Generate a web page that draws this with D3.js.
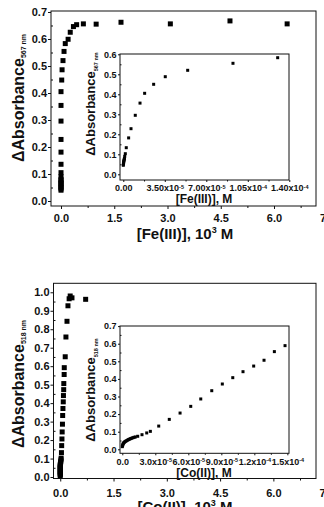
<!DOCTYPE html>
<html><head><meta charset="utf-8">
<script src="https://cdn.jsdelivr.net/npm/d3@7/dist/d3.min.js"></script>
<style>
html,body{margin:0;padding:0;background:#fff;}
svg{display:block;}
text{font-family:"Liberation Sans",Arial,sans-serif;font-weight:bold;fill:#111;}
</style></head><body>
<svg id="c" width="324" height="507"></svg>
<script>
// ---------- Panel 1: Fe(III) ----------
const feMainX = [0,0,0,0,0,0,0,0,0,0,0,0,0,0,0,0,0,0.02,0.03,0.056,0.085,0.12,0.2,0.26,0.35,0.44,0.63,0.99,1.69,3.08,4.76,6.37];
const feMainY = [0.04,0.045,0.05,0.055,0.06,0.065,0.07,0.075,0.08,0.09,0.105,0.136,0.181,0.228,0.296,0.354,0.405,0.448,0.486,0.52,0.554,0.583,0.599,0.625,0.646,0.653,0.656,0.655,0.662,0.656,0.667,0.656];
const feInsetX = [0,1e-7,2e-7,3e-7,4e-7,6e-7,8e-7,1.0e-6,1.2e-6,1.7e-6,2.5e-6,4.5e-6,6.5e-6,1.01e-5,1.41e-5,1.80e-5,2.56e-5,3.54e-5,5.43e-5,9.25e-5,1.302e-4];
const feInsetY = [0.045,0.05,0.055,0.06,0.065,0.07,0.075,0.08,0.09,0.103,0.133,0.182,0.228,0.295,0.356,0.405,0.45,0.488,0.52,0.555,0.583];

// ---------- Panel 2: Co(II) ----------
const coMainX = [0,0,0,0,0,0,0,0,0,0,0,0,0,0.005,0.01,0.015,0.02,0.025,0.034,0.04,0.048,0.054,0.062,0.068,0.076,0.085,0.09,0.097,0.1,0.11,0.113,0.14,0.16,0.19,0.217,0.25,0.28,0.33,0.715];
const coMainY = [0.007,0.012,0.017,0.022,0.027,0.032,0.037,0.042,0.047,0.052,0.057,0.062,0.067,0.072,0.078,0.085,0.093,0.102,0.132,0.17,0.206,0.244,0.286,0.333,0.371,0.407,0.441,0.473,0.506,0.555,0.592,0.651,0.758,0.843,0.927,0.965,0.98,0.97,0.962];
const coInsetX = [0,2e-7,4e-7,7e-7,1.0e-6,1.5e-6,2.0e-6,2.7e-6,3.4e-6,4.2e-6,5.0e-6,5.8e-6,6.7e-6,7.6e-6,8.6e-6,9.6e-6,1.07e-5,1.18e-5,1.4e-5,1.79e-5,2.22e-5,2.55e-5,3.31e-5,4.27e-5,5.25e-5,6.22e-5,7.13e-5,8.13e-5,9.09e-5,1.004e-4,1.097e-4,1.194e-4,1.288e-4,1.382e-4,1.479e-4];
const coInsetY = [0.015,0.02,0.025,0.03,0.034,0.038,0.041,0.044,0.047,0.05,0.053,0.056,0.058,0.061,0.063,0.066,0.068,0.07,0.074,0.083,0.093,0.102,0.132,0.17,0.206,0.244,0.286,0.333,0.371,0.407,0.441,0.473,0.506,0.555,0.589];

// ---------- Tick values / labels ----------
const mainXTicks = [0,1.5,3.0,4.5,6.0,7.5];
const mainXLabels = ["0.0","1.5","3.0","4.5","6.0","7.5"];
const mainXMinor = [0.75,2.25,3.75,5.25,6.75];
const feYTicks = [0,0.1,0.2,0.3,0.4,0.5,0.6,0.7];
const feYLabels = ["0.0","0.1","0.2","0.3","0.4","0.5","0.6","0.7"];
const feYMinor = [0.05,0.15,0.25,0.35,0.45,0.55,0.65];
const coYTicks = [0,0.1,0.2,0.3,0.4,0.5,0.6,0.7,0.8,0.9,1.0];
const coYLabels = ["0.0","0.1","0.2","0.3","0.4","0.5","0.6","0.7","0.8","0.9","1.0"];
const coYMinor = [0.05,0.15,0.25,0.35,0.45,0.55,0.65,0.75,0.85,0.95];
const feInYTicks = [0,0.1,0.2,0.3,0.4,0.5,0.6];
const feInYLabels = ["0.0","0.1","0.2","0.3","0.4","0.5","0.6"];
const feInYMinor = [0.05,0.15,0.25,0.35,0.45,0.55];
const feInXTicks = [0,3.5e-5,7.0e-5,1.05e-4,1.4e-4];
const feInXBase = ["0.00","3.50x10","7.00x10","1.05x10","1.40x10"];
const feInXExp = ["","-5","-5","-4","-4"];
const feInXMinor = [1.75e-5,5.25e-5,8.75e-5,1.225e-4];
const coInYTicks = [0,0.1,0.2,0.3,0.4,0.5,0.6,0.7];
const coInYLabels = ["0.0","0.1","0.2","0.3","0.4","0.5","0.6","0.7"];
const coInYMinor = [0.05,0.15,0.25,0.35,0.45,0.55,0.65];
const coInXTicks = [0,3e-5,6e-5,9e-5,1.2e-4,1.5e-4];
const coInXBase = ["0.0","3.0x10","6.0x10","9.0x10","1.2x10","1.5x10"];
const coInXExp = ["","-5","-5","-5","-4","-4"];
const coInXMinor = [1.5e-5,4.5e-5,7.5e-5,1.05e-4,1.35e-4];

const svg = d3.select("#c");

function panel(o){
  const x = d3.scaleLinear().domain(o.xDomain).range([o.left,o.right]);
  const y = d3.scaleLinear().domain(o.yDomain).range([o.bottom,o.top]);
  const g = svg.append("g");
  const clean = s => { s.select(".domain").remove(); s.attr("font-family",null).attr("font-size",null); s.selectAll("line").attr("stroke","#111"); };
  // minor y ticks (inward)
  g.append("g").attr("transform",`translate(${o.left},0)`)
    .call(d3.axisRight(y).tickValues(o.yMinor).tickSize(o.minorLen).tickFormat(""))
    .call(clean);
  // major y ticks (outward) + labels
  const ya = g.append("g").attr("transform",`translate(${o.left},0)`)
    .call(d3.axisLeft(y).tickValues(o.yTicks).tickSize(o.majorLen).tickPadding(o.yPad).tickFormat((d,i)=>o.yLabels[i]))
    .call(clean);
  ya.selectAll("text").attr("font-size",o.tickFont);
  // minor x ticks
  g.append("g").attr("transform",`translate(0,${o.bottom})`)
    .call(d3.axisBottom(x).tickValues(o.xMinor).tickSize(o.minorLen).tickFormat(""))
    .call(clean);
  const xa = g.append("g").attr("transform",`translate(0,${o.bottom})`)
    .call(d3.axisBottom(x).tickValues(o.xTicks).tickSize(o.majorLen).tickPadding(o.xPad).tickFormat((d,i)=>o.xBase[i]))
    .call(clean);
  xa.selectAll("text").attr("font-size",o.tickFont).each(function(d,i){
    if(o.xExp && o.xExp[i]){
      d3.select(this).append("tspan").attr("dy","-0.45em").attr("font-size",o.expFont).text(o.xExp[i]);
    }
  });
  // frame
  g.append("rect").attr("x",o.left).attr("y",o.top).attr("width",o.right-o.left).attr("height",o.bottom-o.top)
    .attr("fill","none").attr("stroke","#111").attr("stroke-width",1);
  // points
  const s = o.size;
  g.append("g").selectAll("rect").data(o.xs.map((v,i)=>[v,o.ys[i]])).join("rect")
    .attr("x",d=>x(d[0])-s/2).attr("y",d=>y(d[1])-s/2).attr("width",s).attr("height",s).attr("fill","#000");
  // y title
  const yt = g.append("text").attr("transform",`translate(${o.ytX},${o.ytY}) rotate(-90)`).attr("text-anchor","middle")
    .attr("font-size",o.titleFont);
  yt.append("tspan").text("\u0394Absorbance");
  yt.append("tspan").attr("font-size",o.subFont).attr("dy",o.subDy).text(o.sub);
  // x title
  const xt = g.append("text").attr("x",o.xtX).attr("y",o.xtY).attr("text-anchor","middle").attr("font-size",o.xTitleFont);
  xt.append("tspan").text(o.xTitle);
  if(o.xSup){
    xt.append("tspan").attr("font-size",o.supFont).attr("dy",o.supDy).text(o.xSup);
    xt.append("tspan").attr("dy",-o.supDy).text(o.xTitleEnd);
  }
}

// Main Fe
panel({left:51,right:316,top:11,bottom:206,xDomain:[-0.282,7.183],yDomain:[-0.0185,0.7037],
  xTicks:mainXTicks,xBase:mainXLabels,xMinor:mainXMinor,yTicks:feYTicks,yLabels:feYLabels,yMinor:feYMinor,
  majorLen:3,minorLen:2,yPad:1,xPad:5,tickFont:"11px",xs:feMainX,ys:feMainY,size:5,
  ytX:24,ytY:98,titleFont:"16px",subFont:"7px",subDy:2,sub:"567 nm",
  xtX:185,xtY:239,xTitleFont:"15px",xTitle:"[Fe(III)], 10",xSup:"3",supFont:"9px",supDy:-6,xTitleEnd:" M"});
// Inset Fe
panel({left:120,right:289,top:54,bottom:180,xDomain:[-2.78e-6,1.3975e-4],yDomain:[-0.0285,0.6015],
  xTicks:feInXTicks,xBase:feInXBase,xExp:feInXExp,xMinor:feInXMinor,yTicks:feInYTicks,yLabels:feInYLabels,yMinor:feInYMinor,
  majorLen:2,minorLen:1.5,yPad:1.5,xPad:3,tickFont:"9px",expFont:"5.5px",xs:feInsetX,ys:feInsetY,size:3,
  ytX:95,ytY:104,titleFont:"13px",subFont:"5.5px",subDy:3,sub:"567 nm",
  xtX:204,xtY:203,xTitleFont:"12px",xTitle:"[Fe(III)], M"});
// Main Co
panel({left:53.5,right:316,top:283.3,bottom:478.5,xDomain:[-0.19,7.2],yDomain:[-0.008,1.0487],
  xTicks:mainXTicks,xBase:mainXLabels,xMinor:mainXMinor,yTicks:coYTicks,yLabels:coYLabels,yMinor:coYMinor,
  majorLen:3,minorLen:2,yPad:1,xPad:8,tickFont:"11px",xs:coMainX,ys:coMainY,size:5,
  ytX:24,ytY:384,titleFont:"16px",subFont:"7px",subDy:2,sub:"518 nm",
  xtX:185,xtY:512,xTitleFont:"15px",xTitle:"[Co(II)], 10",xSup:"3",supFont:"9px",supDy:-6,xTitleEnd:" M"});
// Inset Co
panel({left:120,right:289,top:326,bottom:453.3,xDomain:[-2.09e-6,1.515e-4],yDomain:[-0.0227,0.7006],
  xTicks:coInXTicks,xBase:coInXBase,xExp:coInXExp,xMinor:coInXMinor,yTicks:coInYTicks,yLabels:coInYLabels,yMinor:coInYMinor,
  majorLen:2,minorLen:1.5,yPad:1.5,xPad:3,tickFont:"9px",expFont:"5.5px",xs:coInsetX,ys:coInsetY,size:3,
  ytX:95,ytY:390,titleFont:"13px",subFont:"5.5px",subDy:3,sub:"518 nm",
  xtX:204,xtY:477,xTitleFont:"12px",xTitle:"[Co(II)], M"});
</script>
</body></html>
